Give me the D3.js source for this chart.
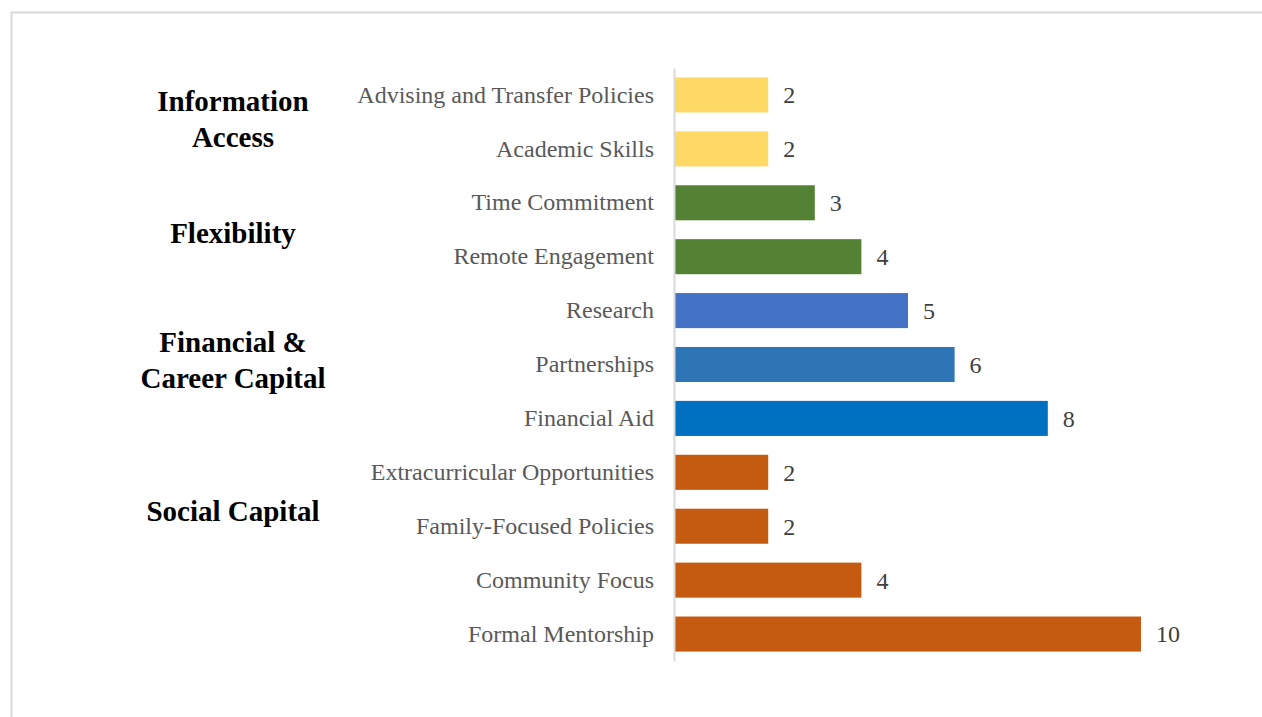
<!DOCTYPE html>
<html>
<head>
<meta charset="utf-8">
<script src="https://cdn.jsdelivr.net/npm/d3@7"></script>
<style>
  body { margin: 0; background: #fff; }
  svg text { font-family: "Liberation Serif", "Times New Roman", serif; }
</style>
</head>
<body>
<div id="chart"></div>
<script>
// categories, top to bottom
var categories = ['Advising and Transfer Policies', 'Academic Skills', 'Time Commitment',
  'Remote Engagement', 'Research', 'Partnerships', 'Financial Aid',
  'Extracurricular Opportunities', 'Family-Focused Policies', 'Community Focus', 'Formal Mentorship'];
var counts = [2, 2, 3, 4, 5, 6, 8, 2, 2, 4, 10];
var barColors = ['#FFD966', '#FFD966', '#548235', '#548235', '#4472C4', '#2E75B6', '#0070C0',
  '#C55A11', '#C55A11', '#C55A11', '#C55A11'];

// group headings on the left
var groupNames = [['Information', 'Access'], ['Flexibility'], ['Financial &', 'Career Capital'], ['Social Capital']];
var groupY = [119, 233, 360, 511];

(function() {
  var width = 1262, height = 717;

  var svg = d3.select("#chart")
    .append("svg")
    .attr("width", width)
    .attr("height", height);

  // outer frame
  svg.append("rect")
    .attr("x", 11.5)
    .attr("y", 12.5)
    .attr("width", width)
    .attr("height", height)
    .attr("fill", "none")
    .attr("stroke", "#d9d9d9")
    .attr("stroke-width", 2);

  var xPositionScale = d3.scaleLinear().domain([0, 10]).range([675, 1141]);

  var yPositionScale = d3.scaleBand()
    .domain(categories)
    .range([68, 661])
    .paddingInner(0.35)
    .paddingOuter(0.175);

  var rows = categories.map(function(c, i) {
    return {name: c, count: counts[i], color: barColors[i]};
  });

  svg.selectAll(".bar")
    .data(rows)
    .enter().append("rect")
    .attr("class", "bar")
    .attr("x", xPositionScale(0))
    .attr("y", function(d) { return yPositionScale(d.name); })
    .attr("width", function(d) { return xPositionScale(d.count) - xPositionScale(0); })
    .attr("height", yPositionScale.bandwidth())
    .attr("fill", function(d) { return d.color; });

  // category axis
  var yAxis = d3.axisLeft(yPositionScale).tickSize(0).tickPadding(20);
  var yG = svg.append("g")
    .attr("class", "y axis")
    .attr("transform", "translate(" + (xPositionScale(0) - 1) + ",0)")
    .call(yAxis);
  yG.select(".domain").attr("stroke", "#d9d9d9").attr("stroke-width", 2);
  yG.selectAll("text")
    .attr("fill", "#595959")
    .style("font-size", "24px")
    .style("font-family", "'Liberation Serif', serif");

  // value labels
  svg.selectAll(".value")
    .data(rows)
    .enter().append("text")
    .attr("class", "value")
    .attr("x", function(d) { return xPositionScale(d.count) + 15; })
    .attr("y", function(d) { return yPositionScale(d.name) + yPositionScale.bandwidth() / 2; })
    .attr("dy", "0.35em")
    .attr("fill", "#404040")
    .style("font-size", "24px")
    .text(function(d) { return d.count; });

  // group headings
  groupNames.forEach(function(lines, i) {
    var t = svg.append("text")
      .attr("x", 233)
      .attr("y", groupY[i] - (lines.length - 1) * 18)
      .attr("text-anchor", "middle")
      .attr("fill", "#000")
      .style("font-size", "29px")
      .style("font-weight", "bold");
    lines.forEach(function(line, j) {
      t.append("tspan")
        .attr("x", 233)
        .attr("dy", j === 0 ? "0.35em" : 36)
        .text(line);
    });
  });
})();
</script>
</body>
</html>
